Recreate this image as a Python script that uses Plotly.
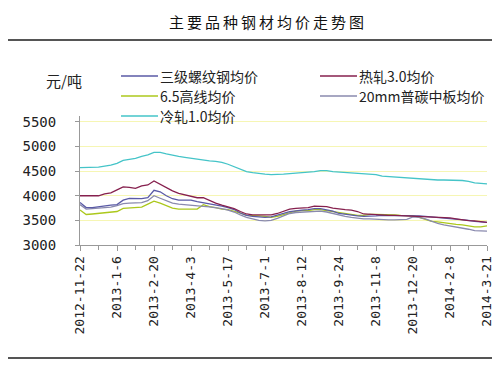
import plotly.graph_objects as go

tick_labels = ["2012-11-22", "2013-1-6", "2013-2-20", "2013-4-3", "2013-5-17", "2013-7-1",
               "2013-8-12", "2013-9-24", "2013-11-8", "2013-12-20", "2014-2-8", "2014-3-21"]
step = 6
x_idx = list(range(67))

rebar = [3865, 3760, 3760, 3780, 3800, 3810, 3820, 3910, 3945, 3945, 3940, 3960, 4110, 4080, 4000,
         3940, 3910, 3910, 3910, 3880, 3860, 3840, 3820, 3790, 3760, 3720, 3650, 3600, 3580, 3570,
         3560, 3570, 3600, 3640, 3680, 3700, 3710, 3720, 3740, 3740, 3720, 3690, 3640, 3620, 3600,
         3590, 3580, 3580, 3590, 3600, 3600, 3600, 3600, 3600, 3600, 3590, 3580, 3570, 3560, 3550,
         3530, 3520, 3510, 3500, 3480, 3470, 3460]
hot_rolled = [4000, 4000, 4000, 4000, 4040, 4060, 4120, 4180, 4170, 4150, 4200, 4220, 4300, 4230, 4160,
              4100, 4050, 4020, 4000, 3960, 3960, 3900, 3850, 3810, 3780, 3740, 3680, 3630, 3610, 3610,
              3610, 3610, 3640, 3680, 3730, 3745, 3745, 3760, 3790, 3790, 3780, 3750, 3730, 3720, 3710,
              3680, 3630, 3620, 3610, 3610, 3600, 3600, 3595, 3590, 3585, 3580, 3575, 3570, 3565, 3560,
              3550, 3530, 3510, 3495, 3490, 3470, 3460]
wire_rod = [3710, 3620, 3630, 3640, 3650, 3660, 3680, 3745, 3750, 3760, 3770, 3830, 3890, 3850, 3800,
            3750, 3730, 3725, 3725, 3730, 3820, 3780, 3760, 3730, 3720, 3690, 3650, 3600, 3600, 3590,
            3580, 3560, 3580, 3620, 3660, 3690, 3700, 3700, 3720, 3720, 3700, 3680, 3650, 3630, 3610,
            3600, 3600, 3620, 3620, 3620, 3610, 3610, 3600, 3600, 3590, 3560, 3520, 3480, 3470, 3450,
            3430, 3420, 3410, 3390, 3370, 3370, 3390]
plate = [3820, 3730, 3740, 3745, 3760, 3770, 3800, 3840, 3850, 3850, 3860, 3900, 4000, 3950, 3900,
         3850, 3830, 3815, 3800, 3790, 3785, 3775, 3760, 3740, 3710, 3670, 3610, 3560, 3530, 3500,
         3490, 3500, 3540, 3590, 3640, 3660, 3670, 3680, 3690, 3690, 3670, 3640, 3600, 3580, 3560,
         3540, 3530, 3530, 3520, 3510, 3510, 3510, 3510, 3520, 3570, 3560, 3530, 3480, 3440, 3410,
         3390, 3360, 3340, 3320, 3290, 3280, 3280]
cold_rolled = [4570, 4570, 4570, 4580, 4600, 4620, 4660, 4720, 4740, 4760, 4800, 4830, 4880, 4880, 4850,
               4820, 4800, 4780, 4760, 4750, 4730, 4710, 4700, 4680, 4640, 4590, 4530, 4490, 4470, 4450,
               4440, 4430, 4430, 4440, 4450, 4460, 4460, 4480, 4490, 4510, 4510, 4490, 4480, 4480, 4470,
               4460, 4450, 4440, 4430, 4400, 4390, 4380, 4370, 4360, 4350, 4340, 4330, 4320, 4320, 4320,
               4320, 4320, 4310, 4290, 4260, 4250, 4240]

names = ["三级螺纹钢均价", "热轧3.0均价", "6.5高线均价", "20mm普碳中板均价", "冷轧1.0均价"]
series = [rebar, hot_rolled, wire_rod, plate, cold_rolled]
colors = ["#5a5aa6", "#86204e", "#acc81c", "#8a8aae", "#45c4c8"]

fig = go.Figure()
draw_order = [4, 2, 3, 0, 1]
for k in draw_order:
    fig.add_trace(go.Scatter(x=x_idx, y=series[k], mode="lines", name=names[k],
                             line=dict(color=colors[k], width=1.3), showlegend=False))

L, R, T, B = 72, 479, 108, 237
W, H = R - L, B - T
def px(x): return (x - L) / W
def py(y): return (B - y) / H

shapes = []
annotations = []
for yy in (32, 350):
    shapes.append(dict(type="line", xref="paper", yref="paper", x0=px(0), x1=px(500),
                       y0=py(yy), y1=py(yy), line=dict(color="#555555", width=2)))

legend_pos = [(113, 68), (312, 68), (113, 88), (312, 88), (113, 108)]
for k, (lx, ly) in enumerate(legend_pos):
    shapes.append(dict(type="line", xref="paper", yref="paper", x0=px(lx), x1=px(lx + 37),
                       y0=py(ly), y1=py(ly), line=dict(color=colors[k], width=1.3)))
    annotations.append(dict(text=names[k], xref="paper", yref="paper", x=px(lx + 38), y=py(ly),
                            xanchor="left", yanchor="middle", showarrow=False, borderpad=0,
                            font=dict(family="Noto Sans CJK SC", size=14, color="#222222")))

title = "\u2009".join("主要品种钢材均价走势图")
annotations.append(dict(text=title, xref="paper", yref="paper", x=px(258), y=py(13),
                        xanchor="center", yanchor="middle", showarrow=False,
                        font=dict(family="Noto Sans CJK SC", size=15, color="#111111")))
annotations.append(dict(text="元/吨", xref="paper", yref="paper", x=px(56), y=py(72),
                        xanchor="center", yanchor="middle", showarrow=False,
                        font=dict(family="Noto Sans CJK SC", size=15, color="#222222")))

fig.update_layout(
    width=500, height=375,
    margin=dict(l=L, r=500 - R, t=T, b=375 - B),
    paper_bgcolor="white", plot_bgcolor="white",
    shapes=shapes, annotations=annotations,
    xaxis=dict(range=[0, 66], tickmode="array",
               tickvals=[i * step for i in range(len(tick_labels))], ticktext=tick_labels,
               tickangle=-90, showgrid=False, zeroline=False,
               showline=True, linecolor="#999999", linewidth=1,
               ticks="outside", ticklen=5, tickcolor="#999999",
               minor=dict(tickvals=list(range(0, 67, 3)), ticks="outside", ticklen=4,
                          tickcolor="#999999", showgrid=False),
               tickfont=dict(family="DejaVu Sans Mono", size=13, color="#222222")),
    yaxis=dict(range=[3000, 5620], tickvals=[3000, 3500, 4000, 4500, 5000, 5500],
               showgrid=True, gridcolor="#f6f6b4", gridwidth=1, zeroline=False,
               showline=True, linecolor="#999999", linewidth=1,
               ticks="outside", ticklen=4, tickcolor="#999999",
               ticklabelstandoff=16,
               tickfont=dict(family="DejaVu Sans Mono", size=14, color="#222222")),
)

fig.write_html("out.html")
